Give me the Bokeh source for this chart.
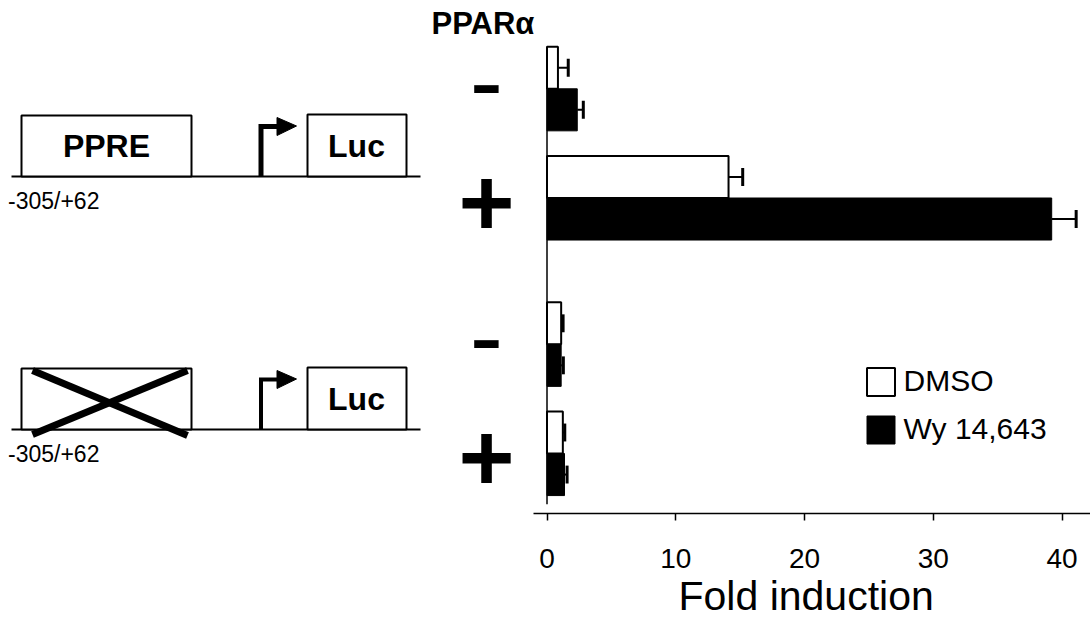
from bokeh.plotting import figure
from bokeh.models import Range1d, Legend, LegendItem, FixedTicker, ColumnDataSource, Title
from bokeh.embed import file_html
from bokeh.resources import INLINE
from bokeh.core.properties import value

FONT = "Liberation Sans"

# ---------------- data ----------------
ppar_signs = ["-", "+", "-", "+"]          # PPARα co-transfection
construct_of_group = [0, 0, 1, 1]          # 0 = intact PPRE, 1 = deleted PPRE
dmso = [0.85, 14.1, 1.1, 1.23]
dmso_err = [0.8, 1.1, 0.15, 0.15]
wy = [2.35, 39.2, 1.1, 1.36]
wy_err = [0.47, 1.9, 0.17, 0.2]
series_names = ["DMSO", "Wy 14,643"]
x_ticks = [0, 10, 20, 30, 40]
construct_labels = ["PPRE", ""]
reporter_label = "Luc"
region_label = "-305/+62"
x_title = "Fold induction"
ppar_title = "PPARα"

# ---------------- geometry (pixel layout -> data) ----------------
W, H = 1090, 623
X0, SX = 546.5, 12.875      # screen x of 0-fold, px per fold unit
Y0, SY = 88.3, 109.2        # screen y of first group, px per group unit
FRAME_BOTTOM = 513
BASE_SHIFT = 0.39           # alphabetic-baseline correction (fraction of font size)


def fx(px):
    return (px - X0) / SX


def fy(py):
    return (py - Y0) / SY


def fy_base(py, fs):
    return fy(py - BASE_SHIFT * fs)


pos = [i + 0.34 * c for i, c in enumerate(construct_of_group)]
bar_h = 0.385
dmso_y = [y - bar_h / 2 for y in pos]
wy_y = [y + bar_h / 2 for y in pos]
cap = 0.082

p = figure(width=W, height=H, x_range=Range1d(fx(0), fx(W)),
           y_range=Range1d(fy(FRAME_BOTTOM), fy(0)),
           output_backend="svg", toolbar_location=None, y_axis_location=None,
           min_border_left=0, min_border_right=0, min_border_top=0,
           min_border_bottom=H - FRAME_BOTTOM, outline_line_color=None)
p.grid.visible = False

# ---------------- left: construct diagrams ----------------
baselines = [176, 429]
for k, yb in enumerate(baselines):
    p.segment(x0=[fx(11)], y0=[fy(yb)], x1=[fx(420)], y1=[fy(yb)], line_color="black", line_width=2)
    p.quad(left=[fx(21)], right=[fx(191)], top=[fy(yb - 61)], bottom=[fy(yb)], fill_color="white",
           line_color="black", line_width=2)
    p.quad(left=[fx(307)], right=[fx(406)], top=[fy(yb - 62)], bottom=[fy(yb)], fill_color="white",
           line_color="black", line_width=2)
    p.multi_line(xs=[[fx(260.5), fx(260.5), fx(278)]], ys=[[fy(yb), fy(yb - 50), fy(yb - 50)]],
                 line_color="black", line_width=5 if k == 0 else 4, line_join="miter")
    p.patch(x=[fx(276.5), fx(296), fx(276.5)], y=[fy(yb - 59), fy(yb - 50.5), fy(yb - 41)],
            fill_color="black", line_color="black", line_width=1)
    if construct_labels[k]:
        p.text(x=[fx(106)], y=[fy_base(yb - 18, 32)], text=[construct_labels[k]], text_font=value(FONT),
               text_font_size="32px", text_font_style="bold", text_align="center",
               text_baseline="alphabetic", text_color="black")
    p.text(x=[fx(356)], y=[fy_base(yb - 18, 32)], text=[reporter_label], text_font=value(FONT),
           text_font_size="32px", text_font_style="bold", text_align="center",
           text_baseline="alphabetic", text_color="black")
    p.text(x=[fx(7.5)], y=[fy_base(yb + 33, 23)], text=[region_label], text_font=value(FONT),
           text_font_size="23px", text_align="left", text_baseline="alphabetic",
           text_color="black")

# deletion cross on the second construct
yb = baselines[1]
p.segment(x0=[fx(32), fx(32)], y0=[fy(yb - 59), fy(yb + 5)], x1=[fx(187), fx(187)],
          y1=[fy(yb + 6), fy(yb - 59)], line_color="black", line_width=7)

# ---------------- right: bar chart ----------------
src = ColumnDataSource(dict(dmso_y=dmso_y, wy_y=wy_y, dmso=dmso, wy=wy,
                            dmso_hi=[v + e for v, e in zip(dmso, dmso_err)],
                            wy_hi=[v + e for v, e in zip(wy, wy_err)],
                            dmso_c0=[y - cap for y in dmso_y], dmso_c1=[y + cap for y in dmso_y],
                            wy_c0=[y - cap for y in wy_y], wy_c1=[y + cap for y in wy_y]))

r_dmso = p.hbar(y="dmso_y", left=0, right="dmso", height=bar_h, source=src,
                fill_color="white", line_color="black", line_width=2)
r_wy = p.hbar(y="wy_y", left=0, right="wy", height=bar_h, source=src,
              fill_color="black", line_color="black", line_width=1)

# error bars
p.segment(x0="dmso", y0="dmso_y", x1="dmso_hi", y1="dmso_y", source=src, line_color="black", line_width=2)
p.segment(x0="dmso_hi", y0="dmso_c0", x1="dmso_hi", y1="dmso_c1", source=src, line_color="black", line_width=3)
p.segment(x0="wy", y0="wy_y", x1="wy_hi", y1="wy_y", source=src, line_color="black", line_width=2)
p.segment(x0="wy_hi", y0="wy_c0", x1="wy_hi", y1="wy_c1", source=src, line_color="black", line_width=3)

# vertical zero line
p.segment(x0=[0], y0=[pos[0] - bar_h], x1=[0], y1=[pos[-1] + bar_h + 0.08],
          line_color="black", line_width=1.5)

# x axis
ax = p.xaxis[0]
ax.bounds = (fx(533), fx(W))
ax.ticker = FixedTicker(ticks=x_ticks)
ax.minor_tick_line_color = None
ax.major_tick_in = 0
ax.major_tick_out = 7
ax.major_tick_line_width = 1.5
ax.axis_line_width = 1.5
ax.major_label_text_font = FONT
ax.major_label_text_font_size = "28px"
ax.major_label_text_color = "black"
ax.major_label_standoff = 28

# axis title, placed under the axis (centred on the bar-chart part)
p.add_layout(Title(text=x_title, align="left", offset=678, standoff=0,
                   text_font=FONT, text_font_size="41px", text_font_style="normal",
                   text_color="black"), "below")

# PPARα signs and title
sign_x = fx(486)
for sgn, y in zip(ppar_signs, pos):
    if sgn == "+":
        p.text(x=[sign_x], y=[y + 4 / SY], text=[sgn], text_font=value(FONT), text_font_size="96px",
               text_font_style="bold", text_align="center", text_baseline="middle",
               text_color="black")
    else:
        p.text(x=[sign_x], y=[y - 7.7 / SY], text=[sgn], text_font=value(FONT), text_font_size="100px",
               text_font_style="normal", text_align="center", text_baseline="middle",
               text_color="black")
p.text(x=[fx(431)], y=[fy_base(35, 31)], text=[ppar_title], text_font=value(FONT), text_font_size="31px",
       text_font_style="bold", text_align="left", text_baseline="alphabetic", text_color="black")

legend = Legend(items=[LegendItem(label=series_names[0], renderers=[r_dmso]),
                       LegendItem(label=series_names[1], renderers=[r_wy])],
                location=(862.5, FRAME_BOTTOM - 446.5), glyph_width=35, glyph_height=35,
                label_height=35, spacing=13, padding=0, margin=0, label_standoff=6,
                label_text_font=FONT, label_text_font_size="30px", label_text_color="black",
                border_line_color=None, background_fill_alpha=0)
p.add_layout(legend)

open("out.html", "w").write(file_html(p, INLINE))
